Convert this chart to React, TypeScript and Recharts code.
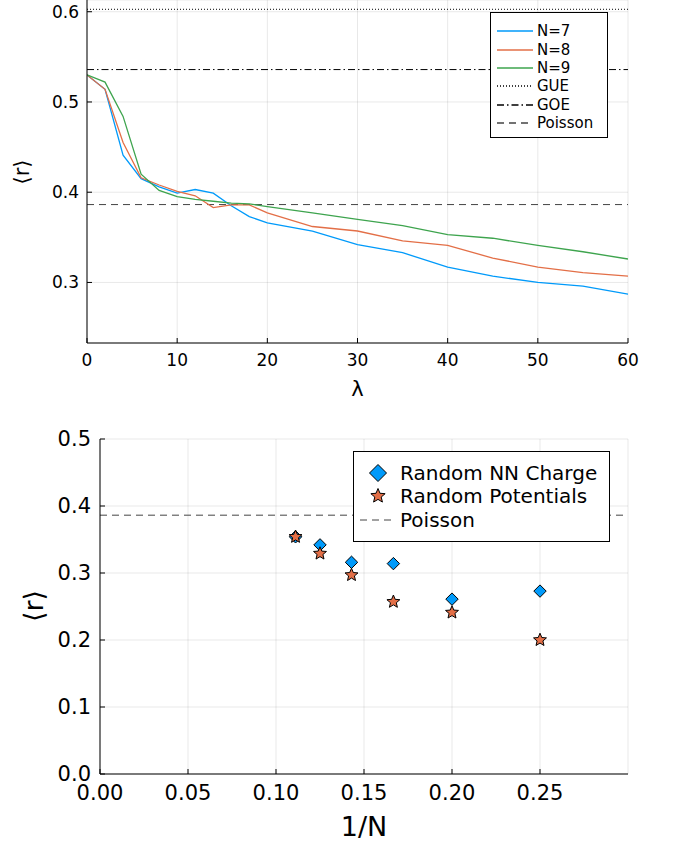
import React from "react";
import {
  LineChart,
  Line,
  ScatterChart,
  Scatter,
  XAxis,
  YAxis,
  CartesianGrid,
  ReferenceLine,
  Legend,
  Label,
} from "recharts";

// top panel: <r> vs lambda
const lambdas = [0, 2, 4, 6, 8, 10, 12, 14, 16, 18, 20, 25, 30, 35, 40, 45, 50, 55, 60];
const rN7 = [0.530, 0.514, 0.441, 0.415, 0.406, 0.399, 0.403, 0.399, 0.385, 0.373, 0.366, 0.357, 0.342, 0.333, 0.317, 0.307, 0.300, 0.296, 0.287];
const rN8 = [0.530, 0.514, 0.455, 0.416, 0.408, 0.401, 0.396, 0.383, 0.386, 0.386, 0.377, 0.362, 0.357, 0.346, 0.341, 0.327, 0.317, 0.311, 0.307];
const rN9 = [0.530, 0.522, 0.484, 0.420, 0.402, 0.395, 0.392, 0.390, 0.388, 0.387, 0.384, 0.377, 0.370, 0.363, 0.353, 0.349, 0.341, 0.334, 0.326];
const lambdaTicks = [0, 10, 20, 30, 40, 50, 60];
const topRTicks = [0.3, 0.4, 0.5, 0.6];

// reference values
const refNames = ["GUE", "GOE", "Poisson"];
const refValues = [0.6027, 0.5359, 0.3863];

// bottom panel: <r> vs 1/N
const invN = [0.1111, 0.125, 0.1429, 0.1667, 0.2, 0.25];
const nnCharge = [0.354, 0.342, 0.316, 0.314, 0.261, 0.273];
const randPot = [0.354, 0.329, 0.297, 0.257, 0.241, 0.2];
const invNTicks = [0, 0.05, 0.1, 0.15, 0.2, 0.25];
const bottomRTicks = [0, 0.1, 0.2, 0.3, 0.4, 0.5];

const FONT = "'DejaVu Sans', sans-serif";
const BLUE = "#009AFA";
const ORANGE = "#E36F47";
const GREEN = "#3EA44E";
const refDash = ["1 2", "7 3 1.5 3", "7 5"];
const refColor = ["#000", "#000", "#444"];

const topData = lambdas.map((l, i) => ({ lambda: l, n7: rN7[i], n8: rN8[i], n9: rN9[i] }));
const nnData = invN.map((x, i) => ({ x, y: nnCharge[i] }));
const potData = invN.map((x, i) => ({ x, y: randPot[i] }));

const makeYTick = (axisX: number, gap: number, size: number, digits: number) => (p: any) => (
  <g>
    <line x1={axisX} x2={axisX + 5} y1={p.y} y2={p.y} stroke="#000" />
    <text x={axisX - gap} y={p.y} textAnchor="end" dominantBaseline="central" fontSize={size} fontFamily={FONT} fill="#000">
      {Number(p.payload.value).toFixed(digits)}
    </text>
  </g>
);

const makeXTick = (axisY: number, gap: number, size: number, digits: number) => (p: any) => (
  <g>
    <line x1={p.x} x2={p.x} y1={axisY} y2={axisY - 5} stroke="#000" />
    <text x={p.x} y={axisY + gap} textAnchor="middle" dominantBaseline="central" fontSize={size} fontFamily={FONT} fill="#000">
      {Number(p.payload.value).toFixed(digits)}
    </text>
  </g>
);

const diamondPts = (cx: number, cy: number, r: number) =>
  `${cx},${cy - r} ${cx + r},${cy} ${cx},${cy + r} ${cx - r},${cy}`;

const starPts = (cx: number, cy: number, R: number) => {
  const pts: string[] = [];
  for (let k = 0; k < 10; k++) {
    const rad = k % 2 === 0 ? R : R * 0.45;
    const a = -Math.PI / 2 + (k * Math.PI) / 5;
    pts.push(`${cx + rad * Math.cos(a)},${cy + rad * Math.sin(a)}`);
  }
  return pts.join(" ");
};

const Diamond = (p: any) => (
  <polygon points={diamondPts(p.cx, p.cy, 6.2)} fill={BLUE} stroke="#000" strokeWidth={1} />
);
const Star = (p: any) => (
  <polygon points={starPts(p.cx, p.cy, 6.8)} fill={ORANGE} stroke="#000" strokeWidth={1} />
);

const topSeries = [
  { key: "n7", name: "N=7", color: BLUE },
  { key: "n8", name: "N=8", color: ORANGE },
  { key: "n9", name: "N=9", color: GREEN },
];

const TopLegend = () => (
  <div
    style={{
      border: "1px solid #000",
      background: "#fff",
      width: 118,
      height: 126,
      boxSizing: "border-box",
      paddingTop: 9,
      fontFamily: FONT,
      fontSize: 15,
    }}
  >
    {[...topSeries.map((s) => ({ name: s.name, color: s.color, dash: undefined as string | undefined })),
      ...refNames.map((n, i) => ({ name: n, color: refColor[i], dash: refDash[i] }))].map((it) => (
      <div key={it.name} style={{ display: "flex", alignItems: "center", height: 18.4 }}>
        <svg width={46} height={10} style={{ flex: "none" }}>
          <line x1={6} x2={42} y1={5} y2={5} stroke={it.color} strokeWidth={1.3} strokeDasharray={it.dash} />
        </svg>
        <span style={{ lineHeight: "18px" }}>{it.name}</span>
      </div>
    ))}
  </div>
);

const BottomLegend = () => (
  <div
    style={{
      border: "1px solid #000",
      background: "#fff",
      width: 257,
      height: 91,
      boxSizing: "border-box",
      paddingTop: 9,
      fontFamily: FONT,
      fontSize: 20,
    }}
  >
    <div style={{ display: "flex", alignItems: "center", height: 23.5 }}>
      <svg width={46} height={22} style={{ flex: "none" }}>
        <polygon points={diamondPts(24, 11, 8.5)} fill={BLUE} stroke="#000" />
      </svg>
      <span>Random NN Charge</span>
    </div>
    <div style={{ display: "flex", alignItems: "center", height: 23.5 }}>
      <svg width={46} height={22} style={{ flex: "none" }}>
        <polygon points={starPts(24, 11, 7.5)} fill={ORANGE} stroke="#000" />
      </svg>
      <span>Random Potentials</span>
    </div>
    <div style={{ display: "flex", alignItems: "center", height: 23.5 }}>
      <svg width={46} height={22} style={{ flex: "none" }}>
        <line x1={6} x2={42} y1={11} y2={11} stroke={refColor[2]} strokeDasharray={refDash[2]} />
      </svg>
      <span>{refNames[2]}</span>
    </div>
  </div>
);

const TopChart = () => (
  <LineChart width={675} height={400} data={topData} margin={{ top: 0, right: 47, left: 0, bottom: 0 }}>
    <CartesianGrid stroke="#000" strokeOpacity={0.09} />
    <XAxis
      type="number"
      dataKey="lambda"
      domain={[0, 60]}
      ticks={lambdaTicks}
      allowDataOverflow
      height={57}
      axisLine={{ stroke: "#000" }}
      tickLine={false}
      tick={makeXTick(343, 17, 17, 0)}
    >
      <Label content={() => (
        <text x={357.5} y={389} textAnchor="middle" dominantBaseline="central" fontSize={21} fontFamily={FONT}>λ</text>
      )} />
    </XAxis>
    <YAxis
      type="number"
      domain={[0.2329, 0.613]}
      ticks={topRTicks}
      allowDataOverflow
      width={87}
      axisLine={{ stroke: "#000" }}
      tickLine={false}
      tick={makeYTick(87, 8, 17, 1)}
    >
      <Label content={() => (
        <text x={22} y={172} textAnchor="middle" dominantBaseline="central" fontSize={21} fontFamily={FONT} transform="rotate(-90 22 172)">⟨r⟩</text>
      )} />
    </YAxis>
    {refValues.map((v, i) => (
      <ReferenceLine key={refNames[i]} y={v} stroke={refColor[i]} strokeDasharray={refDash[i]} strokeWidth={1} />
    ))}
    {topSeries.map((s) => (
      <Line
        key={s.key}
        type="linear"
        dataKey={s.key}
        name={s.name}
        stroke={s.color}
        strokeWidth={1.3}
        dot={false}
        isAnimationActive={false}
      />
    ))}
    <Legend
      layout="vertical"
      align="center"
      verticalAlign="middle"
      content={() => <TopLegend />}
      wrapperStyle={{ left: 490, top: 12, width: 120, height: 128 }}
    />
  </LineChart>
);

const BottomChart = () => (
  <ScatterChart width={675} height={424} margin={{ top: 19, right: 47, left: 0, bottom: 0 }}>
    <CartesianGrid stroke="#000" strokeOpacity={0.09} />
    <XAxis
      type="number"
      dataKey="x"
      domain={[0, 0.3]}
      ticks={invNTicks}
      allowDataOverflow
      height={70}
      axisLine={{ stroke: "#000" }}
      tickLine={false}
      tick={makeXTick(354, 19, 21, 2)}
    >
      <Label content={() => (
        <text x={364} y={406} textAnchor="middle" dominantBaseline="central" fontSize={27} fontFamily={FONT}>1/N</text>
      )} />
    </XAxis>
    <YAxis
      type="number"
      dataKey="y"
      domain={[0, 0.5]}
      ticks={bottomRTicks}
      allowDataOverflow
      width={100}
      axisLine={{ stroke: "#000" }}
      tickLine={false}
      tick={makeYTick(100, 9, 21, 1)}
    >
      <Label content={() => (
        <text x={33} y={186} textAnchor="middle" dominantBaseline="central" fontSize={27} fontFamily={FONT} transform="rotate(-90 33 186)">⟨r⟩</text>
      )} />
    </YAxis>
    <ReferenceLine y={refValues[2]} stroke={refColor[2]} strokeDasharray={refDash[2]} />
    <Scatter name="Random NN Charge" data={nnData} shape={Diamond} isAnimationActive={false} />
    <Scatter name="Random Potentials" data={potData} shape={Star} isAnimationActive={false} />
    <Legend
      layout="vertical"
      align="center"
      verticalAlign="middle"
      content={() => <BottomLegend />}
      wrapperStyle={{ left: 353, top: 31, width: 258, height: 92 }}
    />
  </ScatterChart>
);

export default function App() {
  return (
    <div style={{ position: "absolute", left: 0, top: 0, width: 675, height: 844, background: "#fff" }}>
      <div style={{ position: "absolute", left: 0, top: 0 }}>
        <TopChart />
      </div>
      <div style={{ position: "absolute", left: 0, top: 420 }}>
        <BottomChart />
      </div>
    </div>
  );
}
